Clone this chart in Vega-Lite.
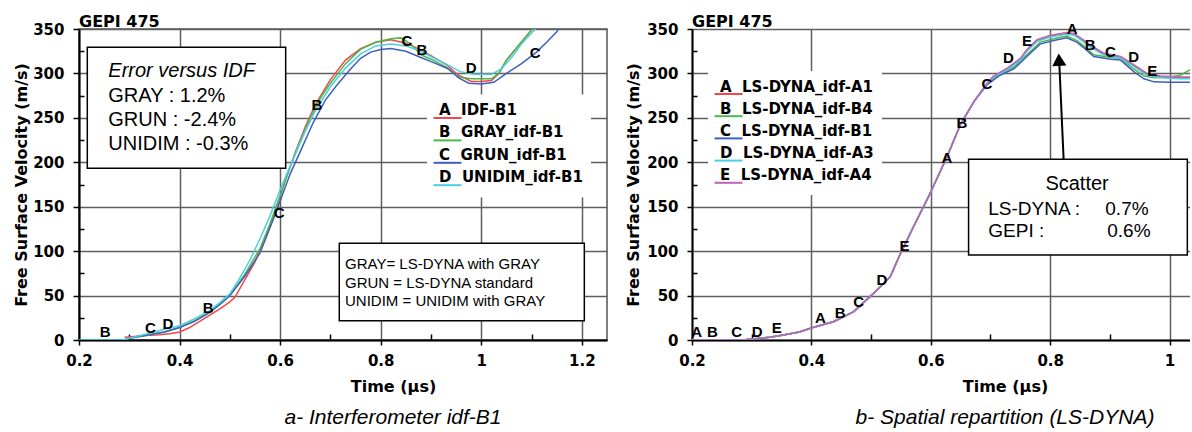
{
  "$schema": "https://vega.github.io/schema/vega-lite/v6.json",
  "padding": {"left": 12, "top": 13, "right": 0, "bottom": 0},
  "autosize": {"type": "pad"},
  "background": "white",
  "bounds": "flush",
  "spacing": 85,
  "config": {
    "font": "Liberation Sans",
    "view": {"stroke": null},
    "axis": {
      "labelFont": "DejaVu Sans", "labelFontWeight": "bold", "labelFontSize": 15, "labelColor": "black",
      "titleFont": "DejaVu Sans", "titleFontWeight": "bold", "titleFontSize": 16, "titleColor": "black",
      "domainColor": "black", "domainWidth": 2, "tickColor": "black", "tickWidth": 1.5,
      "gridColor": "#5f5f5f", "gridWidth": 1.5, "gridOpacity": 1,
      "labelFlush": false, "labelOverlap": false
    }
  },
  "resolve": {"scale": {"color": "independent", "x": "independent", "y": "independent"}, "legend": {"color": "independent"}},
  "datasets": {
    "left": [
      {"s":"IDF-B1","t":0.291,"v":3},{"s":"IDF-B1","t":0.31,"v":4},{"s":"IDF-B1","t":0.33,"v":5},{"s":"IDF-B1","t":0.36,"v":6},{"s":"IDF-B1","t":0.38,"v":7},{"s":"IDF-B1","t":0.40,"v":9},{"s":"IDF-B1","t":0.42,"v":14},{"s":"IDF-B1","t":0.44,"v":21},{"s":"IDF-B1","t":0.46,"v":28},{"s":"IDF-B1","t":0.48,"v":35},{"s":"IDF-B1","t":0.50,"v":43},{"s":"IDF-B1","t":0.51,"v":48},{"s":"IDF-B1","t":0.53,"v":68},{"s":"IDF-B1","t":0.55,"v":88},{"s":"IDF-B1","t":0.57,"v":113},{"s":"IDF-B1","t":0.59,"v":144},{"s":"IDF-B1","t":0.61,"v":179},{"s":"IDF-B1","t":0.63,"v":211},{"s":"IDF-B1","t":0.65,"v":240},{"s":"IDF-B1","t":0.67,"v":265},{"s":"IDF-B1","t":0.70,"v":293},{"s":"IDF-B1","t":0.73,"v":315},{"s":"IDF-B1","t":0.76,"v":328},{"s":"IDF-B1","t":0.79,"v":335},{"s":"IDF-B1","t":0.82,"v":338},{"s":"IDF-B1","t":0.85,"v":334},{"s":"IDF-B1","t":0.87,"v":329},{"s":"IDF-B1","t":0.90,"v":320},{"s":"IDF-B1","t":0.93,"v":310},{"s":"IDF-B1","t":0.955,"v":298},{"s":"IDF-B1","t":0.98,"v":291},{"s":"IDF-B1","t":1.00,"v":291},{"s":"IDF-B1","t":1.02,"v":292},{"s":"IDF-B1","t":1.035,"v":300},{"s":"IDF-B1","t":1.05,"v":315},{"s":"IDF-B1","t":1.075,"v":332},{"s":"IDF-B1","t":1.10,"v":349},{"s":"IDF-B1","t":1.105,"v":353},
      {"s":"GRAY_idf-B1","t":0.29,"v":0},{"s":"GRAY_idf-B1","t":0.30,"v":2},{"s":"GRAY_idf-B1","t":0.34,"v":6},{"s":"GRAY_idf-B1","t":0.37,"v":9},{"s":"GRAY_idf-B1","t":0.40,"v":14},{"s":"GRAY_idf-B1","t":0.43,"v":22},{"s":"GRAY_idf-B1","t":0.46,"v":31},{"s":"GRAY_idf-B1","t":0.48,"v":40},{"s":"GRAY_idf-B1","t":0.50,"v":50},{"s":"GRAY_idf-B1","t":0.53,"v":74},{"s":"GRAY_idf-B1","t":0.56,"v":103},{"s":"GRAY_idf-B1","t":0.58,"v":131},{"s":"GRAY_idf-B1","t":0.60,"v":163},{"s":"GRAY_idf-B1","t":0.62,"v":195},{"s":"GRAY_idf-B1","t":0.64,"v":224},{"s":"GRAY_idf-B1","t":0.66,"v":250},{"s":"GRAY_idf-B1","t":0.68,"v":272},{"s":"GRAY_idf-B1","t":0.70,"v":289},{"s":"GRAY_idf-B1","t":0.73,"v":311},{"s":"GRAY_idf-B1","t":0.76,"v":327},{"s":"GRAY_idf-B1","t":0.79,"v":335},{"s":"GRAY_idf-B1","t":0.82,"v":339},{"s":"GRAY_idf-B1","t":0.84,"v":340},{"s":"GRAY_idf-B1","t":0.86,"v":333},{"s":"GRAY_idf-B1","t":0.88,"v":321},{"s":"GRAY_idf-B1","t":0.90,"v":316},{"s":"GRAY_idf-B1","t":0.93,"v":307},{"s":"GRAY_idf-B1","t":0.955,"v":296},{"s":"GRAY_idf-B1","t":0.98,"v":294},{"s":"GRAY_idf-B1","t":1.00,"v":294},{"s":"GRAY_idf-B1","t":1.02,"v":294},{"s":"GRAY_idf-B1","t":1.035,"v":300},{"s":"GRAY_idf-B1","t":1.05,"v":315},{"s":"GRAY_idf-B1","t":1.075,"v":332},{"s":"GRAY_idf-B1","t":1.10,"v":349},{"s":"GRAY_idf-B1","t":1.105,"v":353},
      {"s":"GRUN_idf-B1","t":0.29,"v":0},{"s":"GRUN_idf-B1","t":0.30,"v":2},{"s":"GRUN_idf-B1","t":0.34,"v":6},{"s":"GRUN_idf-B1","t":0.37,"v":9},{"s":"GRUN_idf-B1","t":0.40,"v":14},{"s":"GRUN_idf-B1","t":0.43,"v":21},{"s":"GRUN_idf-B1","t":0.46,"v":31},{"s":"GRUN_idf-B1","t":0.48,"v":40},{"s":"GRUN_idf-B1","t":0.50,"v":50},{"s":"GRUN_idf-B1","t":0.53,"v":72},{"s":"GRUN_idf-B1","t":0.56,"v":98},{"s":"GRUN_idf-B1","t":0.59,"v":141},{"s":"GRUN_idf-B1","t":0.62,"v":187},{"s":"GRUN_idf-B1","t":0.64,"v":212},{"s":"GRUN_idf-B1","t":0.666,"v":245},{"s":"GRUN_idf-B1","t":0.69,"v":270},{"s":"GRUN_idf-B1","t":0.713,"v":287},{"s":"GRUN_idf-B1","t":0.74,"v":305},{"s":"GRUN_idf-B1","t":0.76,"v":317},{"s":"GRUN_idf-B1","t":0.78,"v":324},{"s":"GRUN_idf-B1","t":0.80,"v":327},{"s":"GRUN_idf-B1","t":0.82,"v":328},{"s":"GRUN_idf-B1","t":0.85,"v":325},{"s":"GRUN_idf-B1","t":0.88,"v":318},{"s":"GRUN_idf-B1","t":0.91,"v":311},{"s":"GRUN_idf-B1","t":0.935,"v":305},{"s":"GRUN_idf-B1","t":0.955,"v":295},{"s":"GRUN_idf-B1","t":0.975,"v":289},{"s":"GRUN_idf-B1","t":1.00,"v":288},{"s":"GRUN_idf-B1","t":1.025,"v":290},{"s":"GRUN_idf-B1","t":1.05,"v":300},{"s":"GRUN_idf-B1","t":1.08,"v":311},{"s":"GRUN_idf-B1","t":1.11,"v":324},{"s":"GRUN_idf-B1","t":1.13,"v":335},{"s":"GRUN_idf-B1","t":1.15,"v":347},{"s":"GRUN_idf-B1","t":1.156,"v":352},
      {"s":"UNIDIM_idf-B1","t":0.20,"v":0},{"s":"UNIDIM_idf-B1","t":0.285,"v":0},{"s":"UNIDIM_idf-B1","t":0.30,"v":2},{"s":"UNIDIM_idf-B1","t":0.34,"v":7.5},{"s":"UNIDIM_idf-B1","t":0.37,"v":12},{"s":"UNIDIM_idf-B1","t":0.40,"v":16},{"s":"UNIDIM_idf-B1","t":0.43,"v":24},{"s":"UNIDIM_idf-B1","t":0.46,"v":33},{"s":"UNIDIM_idf-B1","t":0.48,"v":42},{"s":"UNIDIM_idf-B1","t":0.50,"v":52},{"s":"UNIDIM_idf-B1","t":0.52,"v":70},{"s":"UNIDIM_idf-B1","t":0.54,"v":90},{"s":"UNIDIM_idf-B1","t":0.56,"v":114},{"s":"UNIDIM_idf-B1","t":0.58,"v":140},{"s":"UNIDIM_idf-B1","t":0.60,"v":169},{"s":"UNIDIM_idf-B1","t":0.62,"v":196},{"s":"UNIDIM_idf-B1","t":0.65,"v":235},{"s":"UNIDIM_idf-B1","t":0.67,"v":258},{"s":"UNIDIM_idf-B1","t":0.70,"v":285},{"s":"UNIDIM_idf-B1","t":0.73,"v":306},{"s":"UNIDIM_idf-B1","t":0.76,"v":322},{"s":"UNIDIM_idf-B1","t":0.79,"v":331},{"s":"UNIDIM_idf-B1","t":0.82,"v":333},{"s":"UNIDIM_idf-B1","t":0.85,"v":331},{"s":"UNIDIM_idf-B1","t":0.88,"v":325},{"s":"UNIDIM_idf-B1","t":0.91,"v":316},{"s":"UNIDIM_idf-B1","t":0.935,"v":309},{"s":"UNIDIM_idf-B1","t":0.958,"v":302},{"s":"UNIDIM_idf-B1","t":0.985,"v":299},{"s":"UNIDIM_idf-B1","t":1.02,"v":299},{"s":"UNIDIM_idf-B1","t":1.04,"v":305},{"s":"UNIDIM_idf-B1","t":1.06,"v":318},{"s":"UNIDIM_idf-B1","t":1.08,"v":333},{"s":"UNIDIM_idf-B1","t":1.107,"v":350},{"s":"UNIDIM_idf-B1","t":1.11,"v":353}
    ],
    "leftLbl": [
      {"k":"B","t":0.252,"v":9},{"k":"C","t":0.342,"v":13.5},{"k":"D","t":0.377,"v":18},{"k":"B","t":0.457,"v":35.5},{"k":"C","t":0.598,"v":143},{"k":"B","t":0.673,"v":264},{"k":"C","t":0.852,"v":336},{"k":"B","t":0.882,"v":326},{"k":"D","t":0.98,"v":306},{"k":"C","t":1.107,"v":323}
    ],
    "leftBoxes": [
      {"t":0.2165,"t2":0.611,"v":193.2,"v2":329.4},
      {"t":0.7176,"t2":1.2049,"v":21.7,"v2":108.8}
    ],
    "leftHead": [{"t":0.2583,"v":296.3,"txt":"Error versus IDF"}],
    "leftErr": [
      {"t":0.2583,"v":268.2,"txt":"GRAY : 1.2%"},
      {"t":0.2583,"v":240.8,"txt":"GRUN : -2.4%"},
      {"t":0.2583,"v":213.8,"txt":"UNIDIM : -0.3%"}
    ],
    "leftDef": [
      {"t":0.729,"v":79.6,"txt":"GRAY= LS-DYNA with GRAY"},
      {"t":0.729,"v":58.9,"txt":"GRUN = LS-DYNA standard"},
      {"t":0.729,"v":38.3,"txt":"UNIDIM = UNIDIM with GRAY"}
    ],
    "gepi": [{"t":0.2,"v":350,"txt":"GEPI 475"}],
    "right": [
      {"s":"LS-DYNA_idf-A1","t":0.2,"v":0},{"s":"LS-DYNA_idf-A1","t":0.286,"v":0},{"s":"LS-DYNA_idf-A1","t":0.30,"v":1},{"s":"LS-DYNA_idf-A1","t":0.33,"v":3},{"s":"LS-DYNA_idf-A1","t":0.353,"v":5.6},{"s":"LS-DYNA_idf-A1","t":0.38,"v":9},{"s":"LS-DYNA_idf-A1","t":0.401,"v":13.8},{"s":"LS-DYNA_idf-A1","t":0.437,"v":20.6},{"s":"LS-DYNA_idf-A1","t":0.471,"v":32},{"s":"LS-DYNA_idf-A1","t":0.504,"v":52.5},{"s":"LS-DYNA_idf-A1","t":0.532,"v":71},{"s":"LS-DYNA_idf-A1","t":0.549,"v":97},{"s":"LS-DYNA_idf-A1","t":0.57,"v":126},{"s":"LS-DYNA_idf-A1","t":0.596,"v":161},{"s":"LS-DYNA_idf-A1","t":0.627,"v":206},{"s":"LS-DYNA_idf-A1","t":0.65,"v":243},{"s":"LS-DYNA_idf-A1","t":0.672,"v":268},{"s":"LS-DYNA_idf-A1","t":0.694,"v":288},
      {"s":"LS-DYNA_idf-A1","t":0.705,"v":296},{"s":"LS-DYNA_idf-A1","t":0.728,"v":305},{"s":"LS-DYNA_idf-A1","t":0.75,"v":316},{"s":"LS-DYNA_idf-A1","t":0.761,"v":326},{"s":"LS-DYNA_idf-A1","t":0.778,"v":337},{"s":"LS-DYNA_idf-A1","t":0.80,"v":342},{"s":"LS-DYNA_idf-A1","t":0.828,"v":345},{"s":"LS-DYNA_idf-A1","t":0.84,"v":344},{"s":"LS-DYNA_idf-A1","t":0.855,"v":337},{"s":"LS-DYNA_idf-A1","t":0.867,"v":331},{"s":"LS-DYNA_idf-A1","t":0.889,"v":322},{"s":"LS-DYNA_idf-A1","t":0.918,"v":318},{"s":"LS-DYNA_idf-A1","t":0.94,"v":309},{"s":"LS-DYNA_idf-A1","t":0.962,"v":299},{"s":"LS-DYNA_idf-A1","t":0.985,"v":296},{"s":"LS-DYNA_idf-A1","t":1.018,"v":295},{"s":"LS-DYNA_idf-A1","t":1.04,"v":295},
      {"s":"LS-DYNA_idf-B4","t":0.2,"v":0},{"s":"LS-DYNA_idf-B4","t":0.286,"v":0},{"s":"LS-DYNA_idf-B4","t":0.30,"v":1},{"s":"LS-DYNA_idf-B4","t":0.33,"v":3},{"s":"LS-DYNA_idf-B4","t":0.353,"v":5.6},{"s":"LS-DYNA_idf-B4","t":0.38,"v":9},{"s":"LS-DYNA_idf-B4","t":0.401,"v":13.8},{"s":"LS-DYNA_idf-B4","t":0.437,"v":20.6},{"s":"LS-DYNA_idf-B4","t":0.471,"v":32},{"s":"LS-DYNA_idf-B4","t":0.504,"v":52.5},{"s":"LS-DYNA_idf-B4","t":0.532,"v":71},{"s":"LS-DYNA_idf-B4","t":0.549,"v":97},{"s":"LS-DYNA_idf-B4","t":0.57,"v":126},{"s":"LS-DYNA_idf-B4","t":0.596,"v":161},{"s":"LS-DYNA_idf-B4","t":0.627,"v":206},{"s":"LS-DYNA_idf-B4","t":0.65,"v":243},{"s":"LS-DYNA_idf-B4","t":0.672,"v":268},{"s":"LS-DYNA_idf-B4","t":0.694,"v":288},
      {"s":"LS-DYNA_idf-B4","t":0.716,"v":299},{"s":"LS-DYNA_idf-B4","t":0.739,"v":307},{"s":"LS-DYNA_idf-B4","t":0.761,"v":321},{"s":"LS-DYNA_idf-B4","t":0.783,"v":335},{"s":"LS-DYNA_idf-B4","t":0.806,"v":339},{"s":"LS-DYNA_idf-B4","t":0.828,"v":342},{"s":"LS-DYNA_idf-B4","t":0.845,"v":337},{"s":"LS-DYNA_idf-B4","t":0.856,"v":331},{"s":"LS-DYNA_idf-B4","t":0.873,"v":321},{"s":"LS-DYNA_idf-B4","t":0.901,"v":318},{"s":"LS-DYNA_idf-B4","t":0.918,"v":317},{"s":"LS-DYNA_idf-B4","t":0.94,"v":305},{"s":"LS-DYNA_idf-B4","t":0.957,"v":297},{"s":"LS-DYNA_idf-B4","t":0.974,"v":295},{"s":"LS-DYNA_idf-B4","t":1.0,"v":296},{"s":"LS-DYNA_idf-B4","t":1.018,"v":298},{"s":"LS-DYNA_idf-B4","t":1.04,"v":306},
      {"s":"LS-DYNA_idf-B1","t":0.2,"v":0},{"s":"LS-DYNA_idf-B1","t":0.286,"v":0},{"s":"LS-DYNA_idf-B1","t":0.30,"v":1},{"s":"LS-DYNA_idf-B1","t":0.33,"v":3},{"s":"LS-DYNA_idf-B1","t":0.353,"v":5.6},{"s":"LS-DYNA_idf-B1","t":0.38,"v":9},{"s":"LS-DYNA_idf-B1","t":0.401,"v":13.8},{"s":"LS-DYNA_idf-B1","t":0.437,"v":20.6},{"s":"LS-DYNA_idf-B1","t":0.471,"v":32},{"s":"LS-DYNA_idf-B1","t":0.504,"v":52.5},{"s":"LS-DYNA_idf-B1","t":0.532,"v":71},{"s":"LS-DYNA_idf-B1","t":0.549,"v":97},{"s":"LS-DYNA_idf-B1","t":0.57,"v":126},{"s":"LS-DYNA_idf-B1","t":0.596,"v":161},{"s":"LS-DYNA_idf-B1","t":0.627,"v":206},{"s":"LS-DYNA_idf-B1","t":0.65,"v":243},{"s":"LS-DYNA_idf-B1","t":0.672,"v":268},{"s":"LS-DYNA_idf-B1","t":0.694,"v":287},
      {"s":"LS-DYNA_idf-B1","t":0.716,"v":298},{"s":"LS-DYNA_idf-B1","t":0.739,"v":305},{"s":"LS-DYNA_idf-B1","t":0.761,"v":319},{"s":"LS-DYNA_idf-B1","t":0.783,"v":333},{"s":"LS-DYNA_idf-B1","t":0.806,"v":337},{"s":"LS-DYNA_idf-B1","t":0.828,"v":340},{"s":"LS-DYNA_idf-B1","t":0.845,"v":335},{"s":"LS-DYNA_idf-B1","t":0.856,"v":329},{"s":"LS-DYNA_idf-B1","t":0.873,"v":319},{"s":"LS-DYNA_idf-B1","t":0.901,"v":316},{"s":"LS-DYNA_idf-B1","t":0.918,"v":315},{"s":"LS-DYNA_idf-B1","t":0.94,"v":302},{"s":"LS-DYNA_idf-B1","t":0.957,"v":294},{"s":"LS-DYNA_idf-B1","t":0.974,"v":290.5},{"s":"LS-DYNA_idf-B1","t":1.0,"v":290},{"s":"LS-DYNA_idf-B1","t":1.04,"v":290},
      {"s":"LS-DYNA_idf-A3","t":0.2,"v":0},{"s":"LS-DYNA_idf-A3","t":0.286,"v":0},{"s":"LS-DYNA_idf-A3","t":0.30,"v":1},{"s":"LS-DYNA_idf-A3","t":0.33,"v":3},{"s":"LS-DYNA_idf-A3","t":0.353,"v":5.6},{"s":"LS-DYNA_idf-A3","t":0.38,"v":9},{"s":"LS-DYNA_idf-A3","t":0.401,"v":13.8},{"s":"LS-DYNA_idf-A3","t":0.437,"v":20.6},{"s":"LS-DYNA_idf-A3","t":0.471,"v":32},{"s":"LS-DYNA_idf-A3","t":0.504,"v":52.5},{"s":"LS-DYNA_idf-A3","t":0.532,"v":71},{"s":"LS-DYNA_idf-A3","t":0.549,"v":97},{"s":"LS-DYNA_idf-A3","t":0.57,"v":126},{"s":"LS-DYNA_idf-A3","t":0.596,"v":161},{"s":"LS-DYNA_idf-A3","t":0.627,"v":206},{"s":"LS-DYNA_idf-A3","t":0.65,"v":243},{"s":"LS-DYNA_idf-A3","t":0.672,"v":268},{"s":"LS-DYNA_idf-A3","t":0.694,"v":288},
      {"s":"LS-DYNA_idf-A3","t":0.705,"v":296},{"s":"LS-DYNA_idf-A3","t":0.728,"v":304},{"s":"LS-DYNA_idf-A3","t":0.75,"v":315},{"s":"LS-DYNA_idf-A3","t":0.761,"v":325},{"s":"LS-DYNA_idf-A3","t":0.778,"v":336},{"s":"LS-DYNA_idf-A3","t":0.80,"v":341},{"s":"LS-DYNA_idf-A3","t":0.828,"v":344},{"s":"LS-DYNA_idf-A3","t":0.84,"v":343},{"s":"LS-DYNA_idf-A3","t":0.855,"v":336},{"s":"LS-DYNA_idf-A3","t":0.867,"v":330},{"s":"LS-DYNA_idf-A3","t":0.889,"v":321},{"s":"LS-DYNA_idf-A3","t":0.918,"v":317},{"s":"LS-DYNA_idf-A3","t":0.94,"v":308},{"s":"LS-DYNA_idf-A3","t":0.962,"v":298},{"s":"LS-DYNA_idf-A3","t":0.985,"v":295},{"s":"LS-DYNA_idf-A3","t":1.018,"v":294},{"s":"LS-DYNA_idf-A3","t":1.04,"v":294},
      {"s":"LS-DYNA_idf-A4","t":0.2,"v":0},{"s":"LS-DYNA_idf-A4","t":0.286,"v":0},{"s":"LS-DYNA_idf-A4","t":0.30,"v":1},{"s":"LS-DYNA_idf-A4","t":0.33,"v":3},{"s":"LS-DYNA_idf-A4","t":0.353,"v":5.6},{"s":"LS-DYNA_idf-A4","t":0.38,"v":9},{"s":"LS-DYNA_idf-A4","t":0.401,"v":13.8},{"s":"LS-DYNA_idf-A4","t":0.437,"v":20.6},{"s":"LS-DYNA_idf-A4","t":0.471,"v":32},{"s":"LS-DYNA_idf-A4","t":0.504,"v":52.5},{"s":"LS-DYNA_idf-A4","t":0.532,"v":71},{"s":"LS-DYNA_idf-A4","t":0.549,"v":97},{"s":"LS-DYNA_idf-A4","t":0.57,"v":126},{"s":"LS-DYNA_idf-A4","t":0.596,"v":161},{"s":"LS-DYNA_idf-A4","t":0.627,"v":206},{"s":"LS-DYNA_idf-A4","t":0.65,"v":243},{"s":"LS-DYNA_idf-A4","t":0.672,"v":268},{"s":"LS-DYNA_idf-A4","t":0.694,"v":289},
      {"s":"LS-DYNA_idf-A4","t":0.705,"v":297},{"s":"LS-DYNA_idf-A4","t":0.728,"v":306},{"s":"LS-DYNA_idf-A4","t":0.75,"v":317},{"s":"LS-DYNA_idf-A4","t":0.761,"v":327},{"s":"LS-DYNA_idf-A4","t":0.778,"v":338},{"s":"LS-DYNA_idf-A4","t":0.80,"v":343},{"s":"LS-DYNA_idf-A4","t":0.828,"v":346},{"s":"LS-DYNA_idf-A4","t":0.84,"v":345},{"s":"LS-DYNA_idf-A4","t":0.855,"v":338},{"s":"LS-DYNA_idf-A4","t":0.867,"v":332},{"s":"LS-DYNA_idf-A4","t":0.889,"v":323},{"s":"LS-DYNA_idf-A4","t":0.918,"v":319},{"s":"LS-DYNA_idf-A4","t":0.94,"v":310},{"s":"LS-DYNA_idf-A4","t":0.962,"v":300},{"s":"LS-DYNA_idf-A4","t":0.985,"v":297},{"s":"LS-DYNA_idf-A4","t":1.018,"v":296},{"s":"LS-DYNA_idf-A4","t":1.04,"v":296}
    ],
    "rightLbl": [
      {"k":"A","t":0.208,"v":9.5},{"k":"B","t":0.234,"v":9.5},{"k":"C","t":0.275,"v":9.5},{"k":"D","t":0.309,"v":9.5},{"k":"E","t":0.342,"v":13},
      {"k":"A","t":0.415,"v":24.4},{"k":"B","t":0.448,"v":30.8},{"k":"C","t":0.479,"v":43},{"k":"D","t":0.518,"v":67.5},{"k":"E","t":0.556,"v":106},
      {"k":"A","t":0.627,"v":204.5},{"k":"B","t":0.652,"v":244},{"k":"C","t":0.694,"v":288},{"k":"D","t":0.73,"v":317},{"k":"E","t":0.761,"v":336},
      {"k":"A","t":0.837,"v":350},{"k":"B","t":0.867,"v":332},{"k":"C","t":0.901,"v":324.5},{"k":"D","t":0.94,"v":319},{"k":"E","t":0.971,"v":302.7}
    ],
    "rightBox": [{"t":0.6633,"t2":1.0297,"v":95.7,"v2":203.4}],
    "rightHead": [{"t":0.845,"v":168.8,"txt":"Scatter"}],
    "rightRows": [
      {"t":0.6963,"v":140.7,"txt":"LS-DYNA :"},
      {"t":0.8923,"v":140.7,"txt":"0.7%"},
      {"t":0.6963,"v":116.2,"txt":"GEPI :"},
      {"t":0.8956,"v":116.2,"txt":"0.6%"}
    ],
    "arrow": [{"t":0.8225,"v":203.4,"t2":0.8153,"v2":311}],
    "arrowHead": [{"t":0.8148,"v":315.5}]
  },
  "hconcat": [
    {
      "width": 528,
      "height": 311,
      "view": {"stroke": "#555555", "strokeWidth": 1.5},
      "title": {"text": "a- Interferometer idf-B1", "orient": "bottom", "anchor": "middle", "frame": "group", "dx": 50, "offset": 13, "font": "Liberation Sans", "fontStyle": "italic", "fontWeight": "normal", "fontSize": 21, "color": "black"},
      "resolve": {"axis": {"x": "independent", "y": "independent"}},
      "encoding": {
        "x": {"field": "t", "type": "quantitative", "scale": {"domain": [0.2, 1.25], "nice": false, "zero": false}, "axis": null},
        "y": {"field": "v", "type": "quantitative", "scale": {"domain": [0, 350], "nice": false, "zero": false}, "axis": null}
      },
      "layer": [
        {
          "data": {"name": "left"},
          "mark": {"type": "line", "strokeWidth": 1.5, "clip": true},
          "encoding": {
            "x": {"field": "t", "type": "quantitative", "scale": {"domain": [0.2, 1.25], "nice": false, "zero": false},
              "axis": {"orient": "bottom", "values": [0.2, 0.4, 0.6, 0.8, 1, 1.2], "format": "~g", "tickSize": 5, "labelPadding": 8, "grid": true,
                "title": "Time (µs)", "titleX": 314, "titleY": 51, "titleAlign": "center", "titleBaseline": "alphabetic"}},
            "y": {"field": "v", "type": "quantitative", "scale": {"domain": [0, 350], "nice": false, "zero": false},
              "axis": {"orient": "left", "values": [0, 50, 100, 150, 200, 250, 300, 350], "tickSize": 6, "labelPadding": 9, "grid": true,
                "title": "Free Surface Velocity (m/s)", "titleX": -53, "titleY": 155.5, "titleAlign": "center", "titleBaseline": "alphabetic", "titleAngle": 270}},
            "color": {"field": "s", "type": "nominal",
              "scale": {"domain": ["IDF-B1", "GRAY_idf-B1", "GRUN_idf-B1", "UNIDIM_idf-B1"], "range": ["#f04848", "#4cb848", "#3f5fc0", "#48d0e0"]},
              "legend": {"title": null, "orient": "none", "legendX": 348, "legendY": 65.5, "direction": "vertical", "fillColor": "white", "padding": 8,
                "symbolType": "M-1.8,1.6L3.8,1.6", "symbolSize": 100, "symbolStrokeWidth": 2,
                "labelFont": "DejaVu Sans", "labelFontWeight": "bold", "labelFontSize": 15, "labelColor": "black", "labelOffset": -11, "rowPadding": 2.4,
                "labelExpr": "(datum.label == 'IDF-B1' ? 'A' : datum.label == 'GRAY_idf-B1' ? 'B' : datum.label == 'GRUN_idf-B1' ? 'C' : 'D') + '\u00a0\u00a0' + datum.label"}}
          }
        },
        {
          "data": {"name": "leftBoxes"},
          "mark": {"type": "rect", "fill": "white", "stroke": "black", "strokeWidth": 1.5},
          "encoding": {"x2": {"field": "t2"}, "y2": {"field": "v2"}}
        },
        {
          "data": {"name": "leftHead"},
          "mark": {"type": "text", "align": "left", "baseline": "alphabetic", "font": "Liberation Sans", "fontStyle": "italic", "fontSize": 20, "color": "black"},
          "encoding": {"text": {"field": "txt"}}
        },
        {
          "data": {"name": "leftErr"},
          "mark": {"type": "text", "align": "left", "baseline": "alphabetic", "font": "Liberation Sans", "fontSize": 20, "color": "black"},
          "encoding": {"text": {"field": "txt"}}
        },
        {
          "data": {"name": "leftDef"},
          "mark": {"type": "text", "align": "left", "baseline": "alphabetic", "font": "Liberation Sans", "fontSize": 15, "color": "black"},
          "encoding": {"text": {"field": "txt"}}
        },
        {
          "data": {"name": "leftLbl"},
          "mark": {"type": "text", "align": "center", "baseline": "middle", "font": "Liberation Sans", "fontWeight": "bold", "fontSize": 15, "color": "black"},
          "encoding": {
            "text": {"field": "k"},
            "x": {"field": "t", "type": "quantitative", "scale": {"domain": [0.2, 1.25], "nice": false, "zero": false},
              "axis": {"orient": "bottom", "values": [0.3, 0.5, 0.7, 0.9, 1.1], "tickSize": -6, "labels": false, "domain": false, "grid": false, "title": null}},
            "y": {"field": "v", "type": "quantitative", "scale": {"domain": [0, 350], "nice": false, "zero": false},
              "axis": {"orient": "left", "values": [25, 75, 125, 175, 225, 275, 325], "tickSize": -5, "labels": false, "domain": false, "grid": false, "title": null}}
          }
        },
        {
          "data": {"name": "gepi"},
          "mark": {"type": "text", "align": "left", "baseline": "alphabetic", "dy": -2, "font": "DejaVu Sans", "fontWeight": "bold", "fontSize": 16, "color": "black", "clip": false},
          "encoding": {"text": {"field": "txt"}}
        }
      ]
    },
    {
      "width": 498,
      "height": 311,
      "title": {"text": "b- Spatial repartition (LS-DYNA)", "orient": "bottom", "anchor": "middle", "frame": "group", "dx": 64, "offset": 13, "font": "Liberation Sans", "fontStyle": "italic", "fontWeight": "normal", "fontSize": 21, "color": "black"},
      "resolve": {"axis": {"x": "independent", "y": "independent"}},
      "encoding": {
        "x": {"field": "t", "type": "quantitative", "scale": {"domain": [0.2, 1.0342], "nice": false, "zero": false}, "axis": null},
        "y": {"field": "v", "type": "quantitative", "scale": {"domain": [0, 350], "nice": false, "zero": false}, "axis": null}
      },
      "layer": [
        {
          "data": {"name": "right"},
          "mark": {"type": "line", "strokeWidth": 1.5, "clip": true},
          "encoding": {
            "x": {"field": "t", "type": "quantitative", "scale": {"domain": [0.2, 1.0342], "nice": false, "zero": false},
              "axis": {"orient": "bottom", "values": [0.2, 0.4, 0.6, 0.8, 1], "format": "~g", "tickSize": 5, "labelPadding": 8, "grid": true,
                "title": "Time (µs)", "titleX": 313, "titleY": 51, "titleAlign": "center", "titleBaseline": "alphabetic"}},
            "y": {"field": "v", "type": "quantitative", "scale": {"domain": [0, 350], "nice": false, "zero": false},
              "axis": {"orient": "left", "values": [0, 50, 100, 150, 200, 250, 300, 350], "tickSize": 5, "labelPadding": 9, "grid": true,
                "title": "Free Surface Velocity (m/s)", "titleX": -54, "titleY": 155.5, "titleAlign": "center", "titleBaseline": "alphabetic", "titleAngle": 270}},
            "color": {"field": "s", "type": "nominal",
              "scale": {"domain": ["LS-DYNA_idf-A1", "LS-DYNA_idf-B4", "LS-DYNA_idf-B1", "LS-DYNA_idf-A3", "LS-DYNA_idf-A4"], "range": ["#f04848", "#4cb848", "#3f5fc0", "#48d0e0", "#c064b4"]},
              "legend": {"title": null, "orient": "none", "legendX": 16, "legendY": 42, "direction": "vertical", "fillColor": "white", "padding": 8,
                "symbolType": "M-1.8,1.5L3.8,1.5", "symbolSize": 100, "symbolStrokeWidth": 2,
                "labelFont": "DejaVu Sans", "labelFontWeight": "bold", "labelFontSize": 15, "labelColor": "black", "labelOffset": -11, "rowPadding": 3.2,
                "labelExpr": "(datum.label == 'LS-DYNA_idf-A1' ? 'A' : datum.label == 'LS-DYNA_idf-B4' ? 'B' : datum.label == 'LS-DYNA_idf-B1' ? 'C' : datum.label == 'LS-DYNA_idf-A3' ? 'D' : 'E') + '\u00a0\u00a0' + datum.label"}}
          }
        },
        {
          "data": {"name": "rightBox"},
          "mark": {"type": "rect", "fill": "white", "stroke": "black", "strokeWidth": 1.5},
          "encoding": {"x2": {"field": "t2"}, "y2": {"field": "v2"}}
        },
        {
          "data": {"name": "rightHead"},
          "mark": {"type": "text", "align": "center", "baseline": "alphabetic", "font": "Liberation Sans", "fontSize": 20, "color": "black"},
          "encoding": {"text": {"field": "txt"}}
        },
        {
          "data": {"name": "rightRows"},
          "mark": {"type": "text", "align": "left", "baseline": "alphabetic", "font": "Liberation Sans", "fontSize": 19, "color": "black"},
          "encoding": {"text": {"field": "txt"}}
        },
        {
          "data": {"name": "arrow"},
          "mark": {"type": "rule", "stroke": "black", "strokeWidth": 2},
          "encoding": {"x2": {"field": "t2"}, "y2": {"field": "v2"}}
        },
        {
          "data": {"name": "arrowHead"},
          "mark": {"type": "point", "shape": "triangle-up", "filled": true, "color": "black", "opacity": 1, "size": 200, "angle": -3},
          "encoding": {}
        },
        {
          "data": {"name": "rightLbl"},
          "mark": {"type": "text", "align": "center", "baseline": "middle", "font": "Liberation Sans", "fontWeight": "bold", "fontSize": 15, "color": "black"},
          "encoding": {
            "text": {"field": "k"},
            "x": {"field": "t", "type": "quantitative", "scale": {"domain": [0.2, 1.0342], "nice": false, "zero": false},
              "axis": {"orient": "bottom", "values": [0.3, 0.5, 0.7, 0.9], "tickSize": -6, "labels": false, "domain": false, "grid": false, "title": null}},
            "y": {"field": "v", "type": "quantitative", "scale": {"domain": [0, 350], "nice": false, "zero": false},
              "axis": {"orient": "left", "values": [25, 75, 125, 175, 225, 275, 325], "tickSize": -5, "labels": false, "domain": false, "grid": false, "title": null}}
          }
        },
        {
          "data": {"name": "gepi"},
          "mark": {"type": "text", "align": "left", "baseline": "alphabetic", "dy": -2, "font": "DejaVu Sans", "fontWeight": "bold", "fontSize": 16, "color": "black", "clip": false},
          "encoding": {"text": {"field": "txt"}}
        }
      ]
    }
  ]
}
